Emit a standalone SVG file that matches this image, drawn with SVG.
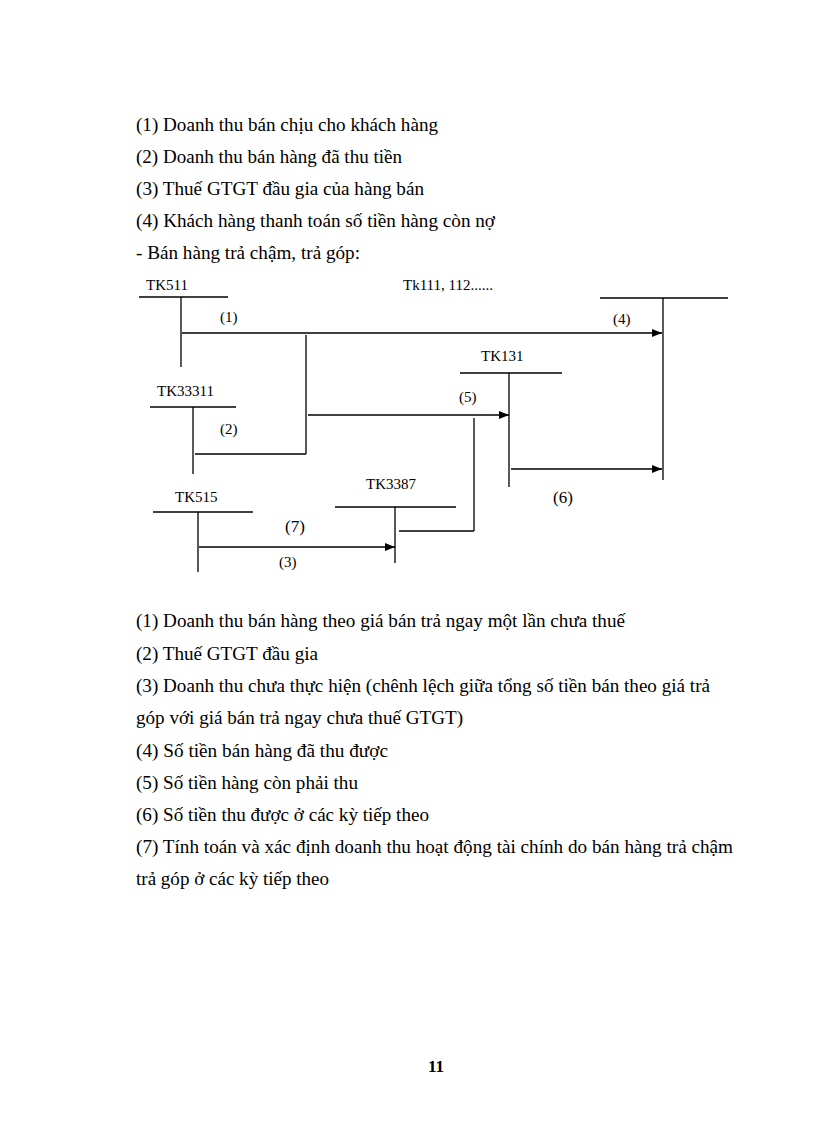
<svg xmlns="http://www.w3.org/2000/svg" width="816" height="1123" viewBox="0 0 816 1123">
<defs>
<style>
.t{font-family:"Liberation Serif","Times New Roman",serif;font-size:18px;fill:#000}
.s{font-family:"Liberation Serif","Times New Roman",serif;font-size:15px;fill:#000}
.m{font-family:"Liberation Serif","Times New Roman",serif;font-size:17px;fill:#000}
.l{stroke:#000;stroke-width:1.3;fill:none}
.a{stroke:#000;stroke-width:1.3;fill:none;marker-end:url(#arr)}
</style>
<marker id="arr" viewBox="0 0 10 8" refX="10" refY="4" markerWidth="10" markerHeight="8" markerUnits="userSpaceOnUse" orient="auto">
<path d="M0,0 L10,4 L0,8 Z" fill="#000"/>
</marker>
</defs>
<rect width="816" height="1123" fill="#fff"/>
<g id="top-text">
<text class="t" x="136" y="131" textLength="302" lengthAdjust="spacingAndGlyphs">(1) Doanh thu bán chịu cho khách hàng</text>
<text class="t" x="136" y="163" textLength="266" lengthAdjust="spacingAndGlyphs">(2) Doanh thu bán hàng đã thu tiền</text>
<text class="t" x="136" y="195" textLength="288" lengthAdjust="spacingAndGlyphs">(3) Thuế GTGT đầu gia của hàng bán</text>
<text class="t" x="136" y="227" textLength="359" lengthAdjust="spacingAndGlyphs">(4) Khách hàng thanh toán số tiền hàng còn nợ</text>
<text class="t" x="136" y="259" textLength="224" lengthAdjust="spacingAndGlyphs">- Bán hàng trả chậm, trả góp:</text>
</g>
<g id="TK511">
<text class="s" x="146" y="290">TK511</text>
<line class="l" x1="139" y1="297" x2="228" y2="297"/>
<line class="l" x1="181" y1="297" x2="181" y2="367"/>
</g>
<g id="TK111">
<text class="s" x="403" y="290">Tk111, 112......</text>
<line class="l" x1="600" y1="298" x2="728" y2="298"/>
<line class="l" x1="663" y1="298" x2="663" y2="480"/>
</g>
<g id="TK33311">
<text class="s" x="157" y="396">TK33311</text>
<line class="l" x1="150" y1="407" x2="236" y2="407"/>
<line class="l" x1="193" y1="407" x2="193" y2="474"/>
</g>
<g id="TK131">
<text class="s" x="481" y="361">TK131</text>
<line class="l" x1="460" y1="373" x2="562" y2="373"/>
<line class="l" x1="509" y1="373" x2="509" y2="487"/>
</g>
<g id="TK515">
<text class="s" x="175" y="502">TK515</text>
<line class="l" x1="153" y1="512" x2="253" y2="512"/>
<line class="l" x1="198" y1="512" x2="198" y2="572"/>
</g>
<g id="TK3387">
<text class="s" x="366" y="489">TK3387</text>
<line class="l" x1="335" y1="507" x2="456" y2="507"/>
<line class="l" x1="395" y1="507" x2="395" y2="563"/>
</g>
<g id="connectors">
<line class="a" x1="182" y1="333" x2="662" y2="333"/>
<line class="l" x1="306" y1="335" x2="306" y2="454"/>
<line class="l" x1="195" y1="454" x2="306" y2="454"/>
<line class="a" x1="308" y1="415" x2="509" y2="415"/>
<line class="l" x1="474" y1="418" x2="474" y2="531"/>
<line class="l" x1="399" y1="531" x2="474" y2="531"/>
<line class="a" x1="511" y1="469" x2="662" y2="469"/>
<line class="a" x1="199" y1="547" x2="395" y2="547"/>
</g>
<g id="connector-labels">
<text class="s" x="220" y="322">(1)</text>
<text class="s" x="613" y="324">(4)</text>
<text class="s" x="220" y="434">(2)</text>
<text class="s" x="459" y="402">(5)</text>
<text class="m" x="553" y="503">(6)</text>
<text class="m" x="285" y="532">(7)</text>
<text class="s" x="279" y="567">(3)</text>
</g>
<g id="bottom-text">
<text class="t" x="136" y="627" textLength="489" lengthAdjust="spacingAndGlyphs">(1) Doanh thu bán hàng theo giá bán trả ngay một lần chưa thuế</text>
<text class="t" x="136" y="660" textLength="182" lengthAdjust="spacingAndGlyphs">(2) Thuế GTGT đầu gia</text>
<text class="t" x="136" y="692" textLength="574" lengthAdjust="spacingAndGlyphs">(3) Doanh thu chưa thực hiện (chênh lệch giữa tổng số tiền bán theo giá trả</text>
<text class="t" x="136" y="724" textLength="327" lengthAdjust="spacingAndGlyphs">góp với giá bán trả ngay chưa thuế GTGT)</text>
<text class="t" x="136" y="757" textLength="252" lengthAdjust="spacingAndGlyphs">(4) Số tiền bán hàng đã thu được</text>
<text class="t" x="136" y="789" textLength="222" lengthAdjust="spacingAndGlyphs">(5) Số tiền hàng còn phải thu</text>
<text class="t" x="136" y="821" textLength="293" lengthAdjust="spacingAndGlyphs">(6) Số tiền thu được ở các kỳ tiếp theo</text>
<text class="t" x="136" y="853" textLength="597" lengthAdjust="spacingAndGlyphs">(7) Tính toán và xác định doanh thu hoạt động tài chính do bán hàng trả chậm</text>
<text class="t" x="136" y="885" textLength="193" lengthAdjust="spacingAndGlyphs">trả góp ở các kỳ tiếp theo</text>
</g>
<g id="page-number">
<text class="m" x="436" y="1072" text-anchor="middle" font-weight="bold">11</text>
</g>
</svg>
